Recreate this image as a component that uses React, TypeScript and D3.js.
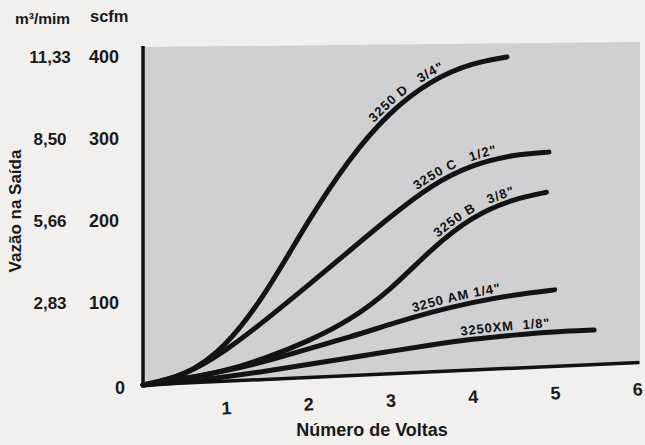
import React, { useEffect, useRef } from "react";
import * as d3 from "d3";

// turns (Número de Voltas) vs flow (scfm)
const dTurns = [0, 0.5, 1.0, 1.5, 2.0, 2.5, 3.0, 3.5, 4.0, 4.42];
const dFlow = [0, 10, 45, 112, 200, 276, 334, 372, 393, 400];

const cTurns = [0, 0.5, 1.0, 1.5, 2.0, 2.5, 3.0, 3.5, 4.0, 4.5, 4.93];
const cFlow = [0, 11, 41, 80, 121, 163, 205, 244, 269, 281, 284];

const bTurns = [0, 0.5, 1.0, 1.5, 2.0, 2.5, 3.0, 3.5, 4.0, 4.5, 4.9];
const bFlow = [0, 7, 17, 33, 53, 78, 115, 166, 206, 227, 235];

const amTurns = [0, 0.5, 1.0, 1.5, 2.0, 2.5, 3.0, 3.5, 4.0, 4.5, 5.0];
const amFlow = [0, 8, 17, 29, 44, 58, 74, 89, 101, 110, 116];

const xmTurns = [0, 0.5, 1.0, 1.5, 2.0, 2.5, 3.0, 3.5, 4.0, 4.5, 5.0, 5.48];
const xmFlow = [0, 4, 10, 17, 25, 33, 41, 49, 56, 61, 65, 67];

const seriesNames = ['3250 D   3/4"', '3250 C   1/2"', '3250 B   3/8"', '3250 AM 1/4"', '3250XM  1/8"'];
const labelTurns = [2.85, 3.36, 3.62, 3.3, 3.87]; // where each label starts along its curve

const scfmTicks = [100, 200, 300, 400];
const m3Ticks = ["2,83", "5,66", "8,50", "11,33"];
const turnTicks = [1, 2, 3, 4, 5, 6];

const FONT = "'Liberation Sans', Arial, sans-serif";

export default function App() {
  const ref = useRef<SVGSVGElement>(null);

  useEffect(() => {
    const svg = d3.select(ref.current);
    svg.selectAll("*").remove();

    const x = d3.scaleLinear().domain([0, 6]).range([143, 637]);
    const y = d3.scaleLinear().domain([0, 400]).range([385, 57]);
    const tilt = -2.6; // the scan's bottom axis leans up to the right
    const slope = Math.tan((tilt * Math.PI) / 180);

    svg.append("rect").attr("width", 645).attr("height", 445).attr("fill", "#f1f0ee");

    /** gray plot area */
    const right = 640;
    svg.append("path")
      .attr("d", `M${x(0)},47 L${right},42 L${right},${y(0) + (right - x(0)) * slope} L${x(0)},${y(0)} Z`)
      .attr("fill", "#d0cfd2");

    /** curves */
    const series = [
      { t: dTurns, f: dFlow },
      { t: cTurns, f: cFlow },
      { t: bTurns, f: bFlow },
      { t: amTurns, f: amFlow },
      { t: xmTurns, f: xmFlow },
    ];
    const line = d3.line<[number, number]>()
      .x(d => x(d[0]))
      .y(d => y(d[1]))
      .curve(d3.curveBasis);

    series.forEach((s, i) => {
      const pts = s.t.map((t, j) => [t, s.f[j]] as [number, number]);
      const path = svg.append("path")
        .attr("id", `curve-${i}`)
        .attr("d", line(pts))
        .attr("fill", "none")
        .attr("stroke", "#131313")
        .attr("stroke-width", 5)
        .attr("stroke-linecap", "round");

      // find the length along the path where the label should start
      const node = path.node() as SVGPathElement;
      const total = node.getTotalLength();
      const targetX = x(labelTurns[i]);
      let lo = 0, hi = total;
      for (let k = 0; k < 30; k++) {
        const mid = (lo + hi) / 2;
        if (node.getPointAtLength(mid).x < targetX) lo = mid; else hi = mid;
      }

      svg.append("text")
        .attr("font-family", FONT)
        .attr("font-weight", "bold")
        .attr("font-size", 13)
        .attr("letter-spacing", 0.8)
        .attr("fill", "#111")
        .style("white-space", "pre")
        .attr("dy", -5)
        .append("textPath")
        .attr("href", `#curve-${i}`)
        .attr("startOffset", lo)
        .text(seriesNames[i]);
    });

    /** y axis */
    svg.append("line")
      .attr("x1", x(0)).attr("x2", x(0))
      .attr("y1", 46).attr("y2", y(0) + 2)
      .attr("stroke", "#111").attr("stroke-width", 3.5);

    const yLabels = svg.append("g")
      .attr("font-family", FONT)
      .attr("font-weight", "bold")
      .attr("fill", "#1a1a1a");

    scfmTicks.forEach((v, i) => {
      yLabels.append("text")
        .attr("x", 104).attr("y", y(v))
        .attr("dominant-baseline", "central")
        .attr("text-anchor", "middle")
        .attr("font-size", 18)
        .text(v);
      yLabels.append("text")
        .attr("x", 50).attr("y", y(v))
        .attr("dominant-baseline", "central")
        .attr("text-anchor", "middle")
        .attr("font-size", 17)
        .text(m3Ticks[i]);
    });

    yLabels.append("text")
      .attr("x", 15).attr("y", 24)
      .attr("font-size", 15.5)
      .text("m³/mim");
    yLabels.append("text")
      .attr("x", 90).attr("y", 22)
      .attr("font-size", 16.5)
      .text("scfm");

    yLabels.append("text")
      .attr("transform", `translate(15, 211) rotate(-90)`)
      .attr("text-anchor", "middle")
      .attr("dominant-baseline", "central")
      .attr("font-size", 17)
      .text("Vazão na Saída");

    /** x axis (tilted like the scan) */
    const xAxis = svg.append("g")
      .attr("transform", `rotate(${tilt}, ${x(0)}, ${y(0)})`)
      .attr("font-family", FONT)
      .attr("font-weight", "bold")
      .attr("fill", "#1a1a1a");

    xAxis.append("line")
      .attr("x1", x(0) - 2).attr("x2", right)
      .attr("y1", y(0)).attr("y2", y(0))
      .attr("stroke", "#111").attr("stroke-width", 3.5);

    turnTicks.forEach(t => {
      xAxis.append("text")
        .attr("x", x(t)).attr("y", y(0) + 27)
        .attr("text-anchor", "middle")
        .attr("dominant-baseline", "central")
        .attr("font-size", 18)
        .text(t);
    });

    svg.append("text")
      .attr("x", x(0) - 23).attr("y", y(0) + 3)
      .attr("text-anchor", "middle")
      .attr("dominant-baseline", "central")
      .attr("font-family", FONT)
      .attr("font-weight", "bold")
      .attr("font-size", 18)
      .attr("fill", "#1a1a1a")
      .text(0);

    svg.append("text")
      .attr("x", 372).attr("y", 430)
      .attr("text-anchor", "middle")
      .attr("dominant-baseline", "central")
      .attr("font-family", FONT)
      .attr("font-weight", "bold")
      .attr("font-size", 18)
      .attr("fill", "#1a1a1a")
      .text("Número de Voltas");
  }, []);

  return (
    <svg
      ref={ref}
      width={645}
      height={445}
      style={{ position: "absolute", left: 0, top: 0, display: "block" }}
    />
  );
}
